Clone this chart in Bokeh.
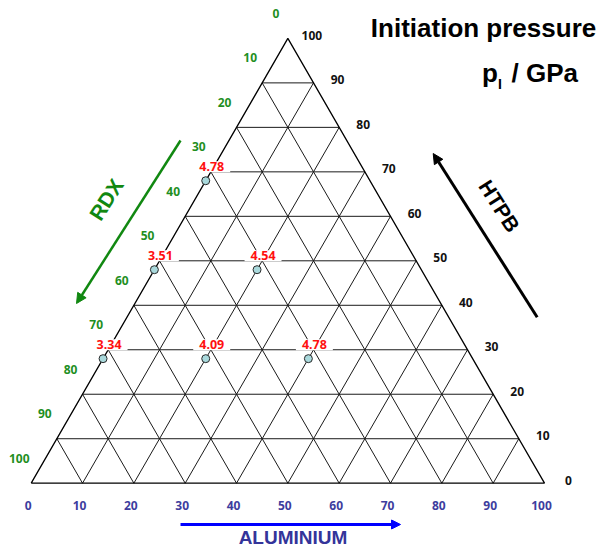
import math
from bokeh.plotting import figure
from bokeh.models import Range1d, Label, Arrow, NormalHead, ColumnDataSource
from bokeh.core.properties import value
from bokeh.embed import file_html
from bokeh.resources import INLINE

# ---------------- data ----------------
grid_ticks = [10, 20, 30, 40, 50, 60, 70, 80, 90]
axis_ticks = [0, 10, 20, 30, 40, 50, 60, 70, 80, 90, 100]
axis_tick_labels = ["0", "10", "20", "30", "40", "50", "60", "70", "80", "90", "100"]

# compositions (%) of the measured mixtures
aluminium = [0, 20, 40, 0, 20, 0]
htpb = [28, 28, 28, 48, 48, 68]
rdx = [100 - a - h for a, h in zip(aluminium, htpb)]
initiation_pressure = [3.34, 4.09, 4.78, 3.51, 4.54, 4.78]
pressure_labels = ["3.34", "4.09", "4.78", "3.51", "4.54", "4.78"]

S3 = math.sqrt(3) / 2


def tx(al, ht):
    return al + ht / 2.0


def ty(al, ht):
    return ht * S3


p = figure(width=597, height=549, output_backend="svg", toolbar_location=None,
           x_range=Range1d(-5.981, 110.325), y_range=Range1d(-12.909, 93.984),
           x_axis_type=None, y_axis_type=None, min_border=0)
p.outline_line_color = None
p.grid.visible = False

# ---------------- grid ----------------
xs, ys = [], []
for t in grid_ticks:
    # constant HTPB
    xs.append([tx(0, t), tx(100 - t, t)]); ys.append([ty(0, t), ty(100 - t, t)])
    # constant aluminium
    xs.append([tx(t, 0), tx(t, 100 - t)]); ys.append([ty(t, 0), ty(t, 100 - t)])
    # constant RDX
    s = 100 - t
    xs.append([tx(s, 0), tx(0, s)]); ys.append([ty(s, 0), ty(0, s)])
p.multi_line(xs, ys, line_color="#1a1a1a", line_width=1)

# outer triangle
p.line([tx(0, 0), tx(100, 0), tx(0, 100), tx(0, 0)],
       [ty(0, 0), ty(100, 0), ty(0, 100), ty(0, 0)],
       line_color="black", line_width=1.3)

# ---------------- tick labels ----------------
tick_font = value("Noto Sans")
# aluminium (bottom)
p.text(x=[tx(v, 0) for v in axis_ticks], y=[ty(v, 0) for v in axis_ticks], text=axis_tick_labels,
       x_offset=-3, y_offset=22, text_align="center", text_baseline="middle",
       text_font=tick_font, text_font_style="bold", text_font_size="12px", text_color="#3d3d9e")
# HTPB (right)
p.text(x=[tx(100 - v, v) for v in axis_ticks], y=[ty(100 - v, v) for v in axis_ticks], text=axis_tick_labels,
       x_offset=24, y_offset=-3, text_align="center", text_baseline="middle",
       text_font=tick_font, text_font_style="bold", text_font_size="12px", text_color="#111111")
# RDX (left)
p.text(x=[tx(0, 100 - v) for v in axis_ticks], y=[ty(0, 100 - v) for v in axis_ticks], text=axis_tick_labels,
       x_offset=-12, y_offset=-25, text_align="center", text_baseline="middle",
       text_font=tick_font, text_font_style="bold", text_font_size="12px", text_color="#1f8f1f")

# ---------------- points ----------------
src = ColumnDataSource(dict(
    x=[tx(a, h) for a, h in zip(aluminium, htpb)],
    y=[ty(a, h) for a, h in zip(aluminium, htpb)],
    lab=pressure_labels, pi=initiation_pressure, rdx=rdx))
p.text(x="x", y="y", text="lab", source=src, x_offset=6, y_offset=-14,
       text_align="center", text_baseline="middle", text_font=tick_font,
       text_font_style="bold", text_font_size="12.5px", text_color="#ff1010",
       background_fill_color="white", padding=(6, 1))
p.scatter(x="x", y="y", source=src, size=8, marker="circle",
          fill_color="#a9d9dc", line_color="#2a2a2a", line_width=1)

# ---------------- arrows & axis titles ----------------
p.add_layout(Arrow(x_start=29.09, y_start=66.72, x_end=8.83, y_end=34.99,
                   line_color="#118811", line_width=2.5,
                   end=NormalHead(size=10, fill_color="#118811", line_color="#118811")))
p.add_layout(Arrow(x_start=98.58, y_start=32.32, x_end=78.32, y_end=64.19,
                   line_color="black", line_width=3,
                   end=NormalHead(size=10, fill_color="black", line_color="black")))
p.add_layout(Arrow(x_start=29.09, y_start=-8.04, x_end=71.95, y_end=-8.04,
                   line_color="#0000ff", line_width=3,
                   end=NormalHead(size=9, fill_color="#0000ff", line_color="#0000ff")))

title_font = "Liberation Sans"
p.add_layout(Label(x=14.63, y=55.24, text="RDX", angle=57.5, angle_units="deg",
                   text_align="center", text_baseline="middle", text_font=title_font,
                   text_font_style="bold", text_font_size="21px", text_color="#118811"))
p.add_layout(Label(x=91.23, y=53.97, text="HTPB", angle=-57.5, angle_units="deg",
                   text_align="center", text_baseline="middle", text_font=title_font,
                   text_font_style="bold", text_font_size="21px", text_color="black"))
p.add_layout(Label(x=51.0, y=-10.5, text="ALUMINIUM",
                   text_align="center", text_baseline="middle", text_font=title_font,
                   text_font_style="bold", text_font_size="19px", text_color="#34349a"))

p.add_layout(Label(x=88.12, y=88.6, text="Initiation pressure",
                   text_align="center", text_baseline="middle", text_font=title_font,
                   text_font_style="bold", text_font_size="26px", text_color="black"))
p.add_layout(Label(x=87.82, y=79.8, text="p",
                   text_align="left", text_baseline="middle", text_font=title_font,
                   text_font_style="bold", text_font_size="26px", text_color="black"))
p.add_layout(Label(x=90.94, y=77.7, text="I",
                   text_align="left", text_baseline="middle", text_font=title_font,
                   text_font_style="bold", text_font_size="14px", text_color="black"))
p.add_layout(Label(x=93.57, y=79.8, text="/ GPa",
                   text_align="left", text_baseline="middle", text_font=title_font,
                   text_font_style="bold", text_font_size="26px", text_color="black"))

open("out.html", "w").write(file_html(p, INLINE))
